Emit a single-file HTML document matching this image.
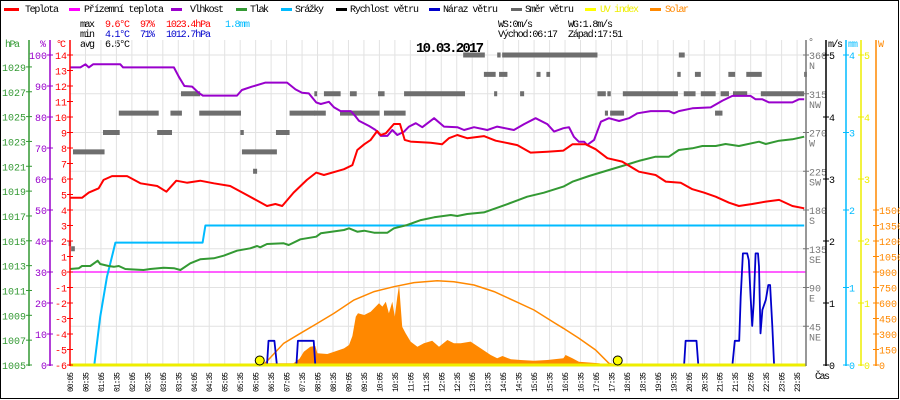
<!DOCTYPE html>
<html><head><meta charset="utf-8"><title>Meteo 10.03.2017</title>
<style>
html,body{margin:0;padding:0;background:#fff;}
svg{display:block;font-family:"Liberation Mono",monospace;}
</style></head>
<body>
<svg id="chart" width="900" height="400" viewBox="0 0 900 400" xmlns="http://www.w3.org/2000/svg">
<rect x="0.5" y="0.5" width="898" height="398" fill="#fff" stroke="#000" stroke-width="1"/>
<g id="legend" font-size="10">
 <g><rect x="4" y="8" width="15" height="3" fill="#f00"/><text x="25" y="12" textLength="34" fill="#000">Teplota</text></g>
 <g><rect x="69" y="8" width="11" height="3" fill="#f0f"/><text x="84" y="12" textLength="80" fill="#000">Přízemní teplota</text></g>
 <g><rect x="171" y="8" width="11" height="3" fill="#90c"/><text x="190" y="12" textLength="34" fill="#000">Vlhkost</text></g>
 <g><rect x="236" y="8" width="11" height="3" fill="#393"/><text x="250" y="12" textLength="19" fill="#000">Tlak</text></g>
 <g><rect x="281" y="8" width="11" height="3" fill="#0bf"/><text x="295" y="12" textLength="29" fill="#000">Srážky</text></g>
 <g><rect x="336" y="8" width="11" height="3" fill="#000"/><text x="350" y="12" textLength="69" fill="#000">Rychlost větru</text></g>
 <g><rect x="429" y="8" width="11" height="3" fill="#00c"/><text x="443" y="12" textLength="55" fill="#000">Náraz větru</text></g>
 <g><rect x="511" y="8" width="11" height="3" fill="#666"/><text x="525" y="12" textLength="49" fill="#000">Směr větru</text></g>
 <g><rect x="585" y="8" width="11" height="3" fill="#ff0"/><text x="600" y="12" textLength="39" fill="#ee0">UV index</text></g>
 <g><rect x="650" y="8" width="11" height="3" fill="#f80"/><text x="665" y="12" textLength="24" fill="#f80">Solar</text></g>
</g>
<g id="stats" font-size="10">
 <text x="80" y="27" textLength="15" fill="#000">max</text>
 <text x="105" y="27" textLength="25" fill="#f00">9.6°C</text>
 <text x="140" y="27" textLength="15" fill="#f00">97%</text>
 <text x="166" y="27" textLength="45" fill="#f00">1023.4hPa</text>
 <text x="225" y="27" textLength="25" fill="#0bf">1.8mm</text>
 <text x="80" y="37" textLength="15" fill="#000">min</text>
 <text x="105" y="37" textLength="25" fill="#00c">4.1°C</text>
 <text x="140" y="37" textLength="15" fill="#00c">71%</text>
 <text x="166" y="37" textLength="45" fill="#00c">1012.7hPa</text>
 <text x="80" y="47" textLength="15" fill="#000">avg</text>
 <text x="105" y="47" textLength="25" fill="#000">6.5°C</text>
 <text x="498" y="27" textLength="35" fill="#000">WS:0m/s</text>
 <text x="568" y="27" textLength="45" fill="#000">WG:1.8m/s</text>
 <text x="498" y="37" textLength="60" fill="#000">Východ:06:17</text>
 <text x="568" y="37" textLength="55" fill="#000">Západ:17:51</text>
</g>
<g id="grid"></g>
<g id="marks"></g>
<g id="axes"></g>
<text x="416" y="52" font-size="14" font-weight="bold" textLength="68" fill="#000">10.03.2017</text>
<g font-size="10">
<text x="5" y="47" fill="#393" textLength="15">hPa</text>
<text x="40" y="47" fill="#90c">%</text>
<text x="56" y="47" fill="#f00" textLength="10">°C</text>
<text x="808" y="45" fill="#666">°</text>
<text x="828" y="47" fill="#000" textLength="15">m/s</text>
<text x="848" y="47" fill="#0bf" textLength="10">mm</text>
<text x="878" y="47" fill="#f80">W</text>
<text x="815" y="379" fill="#000" textLength="15">Čas</text>
</g>
</svg>
<script>
// ---------- DATA ----------
const tempTimes=[0.08,0.47,0.69,1.01,1.17,1.44,1.93,2.36,2.90,3.20,3.52,3.86,4.29,4.73,5.26,5.80,6.45,6.72,6.94,7.31,7.74,8.04,8.29,8.94,9.21,9.37,9.59,9.80,10.01,10.12,10.29,10.55,10.75,10.90,11.09,11.74,12.11,12.33,12.60,12.92,13.46,13.84,14.54,14.97,15.51,16.03,16.32,16.75,17.07,17.45,17.93,18.47,19.01,19.34,19.82,20.20,20.57,20.95,21.38,21.70,22.13,22.57,23.00,23.43,23.81];
const tempValues=[4.79,4.79,5.12,5.40,5.94,6.19,6.19,5.72,5.55,5.18,5.89,5.76,5.89,5.72,5.55,4.97,4.26,4.39,4.26,5.12,5.94,6.41,6.26,6.63,6.90,7.87,8.24,8.52,9.10,8.84,8.95,9.55,9.55,8.52,8.41,8.34,8.24,8.63,8.84,8.63,8.77,8.47,8.19,7.70,7.76,7.83,8.24,8.24,7.92,7.34,7.12,6.47,6.26,5.83,5.76,5.34,5.12,4.86,4.47,4.26,4.39,4.54,4.65,4.26,4.11];
const humTimes=[0.08,0.42,0.58,0.69,0.83,1.71,1.80,3.44,3.60,3.78,4.03,4.24,4.38,5.48,5.64,5.97,6.40,7.10,7.37,7.58,7.80,8.04,8.19,8.45,8.62,8.83,9.16,9.32,9.42,9.75,9.96,10.13,10.34,10.50,10.66,10.88,11.04,11.26,11.47,11.85,12.17,12.60,12.82,13.14,13.57,13.89,14.43,14.76,15.13,15.51,15.73,16.03,16.21,16.37,16.53,16.70,16.80,17.02,17.24,17.50,17.83,18.15,18.42,18.85,19.44,19.60,19.76,20.20,20.79,21.17,21.49,22.08,22.24,22.46,22.67,23.43,23.64,23.81];
const humValues=[96.0,96.0,97.0,96.0,97.0,97.0,96.0,96.0,93.0,90.0,89.8,87.8,86.9,86.9,88.7,89.8,91.1,91.1,88.9,87.8,87.6,84.7,84.2,84.9,83.1,81.9,81.9,80.1,78.8,77.1,75.8,73.9,73.9,75.8,74.2,75.3,76.9,78.0,76.7,79.6,76.9,76.7,75.8,76.7,75.8,76.9,75.8,77.7,79.6,77.7,75.3,76.4,76.7,73.6,72.0,72.0,71.0,72.6,78.5,79.6,78.7,79.6,81.2,81.9,81.9,81.2,81.9,82.8,83.1,85.3,86.8,86.8,85.7,85.7,84.7,84.7,85.7,85.7];
const presTimes=[0.08,0.37,0.47,0.74,0.98,1.06,1.33,1.50,1.66,1.87,2.46,2.68,3.11,3.44,3.65,3.97,4.29,4.73,5.05,5.48,5.91,6.13,6.23,6.45,6.99,7.15,7.53,8.04,8.19,8.94,9.10,9.37,9.59,9.91,10.34,10.55,10.98,11.42,11.85,12.39,12.60,12.92,13.46,14.00,14.43,14.86,15.40,16.03,16.32,16.86,17.50,18.04,18.47,19.01,19.44,19.76,20.20,20.52,20.95,21.27,21.70,22.35,22.57,23.00,23.43,23.81];
const presValues=[1012.73,1012.79,1012.97,1012.97,1013.40,1013.13,1012.97,1012.91,1012.97,1012.73,1012.65,1012.73,1012.83,1012.79,1012.65,1013.19,1013.51,1013.59,1013.80,1014.20,1014.40,1014.58,1014.48,1014.74,1014.80,1014.66,1015.12,1015.33,1015.60,1015.87,1016.01,1015.73,1015.81,1015.65,1015.65,1016.01,1016.27,1016.67,1016.89,1017.08,1017.00,1017.16,1017.29,1017.75,1018.15,1018.55,1018.87,1019.36,1019.76,1020.22,1020.70,1021.10,1021.43,1021.77,1021.77,1022.31,1022.45,1022.63,1022.63,1022.79,1022.63,1022.98,1022.79,1023.06,1023.17,1023.38];
const rainTimes=[0.08,0.87,1.06,1.28,1.44,1.55,4.37,4.46,23.81];
const rainValues=[0,0,0.62,1.14,1.40,1.58,1.58,1.80,1.80];
const gustTimes=[0.08,6.45,6.50,6.69,6.77,7.40,7.45,7.96,8.01,19.93,19.98,20.33,20.39,21.49,21.57,21.71,21.76,21.83,21.97,22.02,22.08,22.13,22.18,22.24,22.32,22.35,22.40,22.46,22.57,22.65,22.71,22.78,22.84,23.81];
const gustValues=[0,0,0.39,0.39,0,0,0.39,0.39,0,0,0.39,0.39,0,0,0.39,0.39,1.10,1.80,1.80,1.69,1.10,0.63,1.0,1.8,1.8,1.59,0.51,0.89,1.05,1.29,1.29,0.63,0,0];
const dirStart=[0.04,0.12,0.18,1.15,1.66,2.90,3.33,3.67,4.26,5.59,5.64,6.00,6.74,7.18,7.98,7.97,8.29,8.81,9.13,10.04,10.23,10.88,12.79,13.46,13.79,13.89,13.95,14.05,14.63,15.16,15.48,15.89,17.13,17.37,17.45,17.54,17.95,19.71,19.76,19.92,20.28,20.47,20.93,21.11,21.36,21.51,21.94,22.41,23.81];
const dirEnd=[0.12,0.24,1.20,1.69,2.95,3.38,3.70,4.29,5.61,5.70,6.77,6.13,7.18,8.01,8.07,8.35,8.83,10.09,9.35,10.25,10.93,12.85,13.49,13.84,13.89,14.00,14.22,16.03,14.76,15.29,15.60,17.13,17.40,17.47,17.56,17.99,19.73,19.82,19.95,20.30,20.47,20.95,21.17,21.38,21.58,21.97,22.44,23.81,23.90];
const dirValues=[141,135,247.5,270,292.5,270,292.5,315,292.5,270,247.5,225,270,292.5,315,292.5,315,292.5,315,315,292.5,315,360,337.5,315,360,337.5,360,315,337.5,337.5,360,315,292.5,315,292.5,315,337.5,360,315,337.5,315,292.5,315,337.5,315,337.5,315,337.5];
const solarTimes=[6.30,6.34,6.45,7.31,7.50,7.64,7.85,8.01,8.08,8.40,8.62,8.94,9.10,9.21,9.32,9.39,9.59,9.80,10.07,10.18,10.29,10.39,10.50,10.58,10.66,10.72,10.77,10.82,10.93,11.09,11.31,11.52,11.79,12.01,12.28,12.49,12.71,13.03,13.36,13.68,13.89,14.06,14.33,14.65,15.08,15.51,16.03,16.10,16.32,16.53,17.18,17.50];
const solarValues=[0,10,16,16,60,129,177,184,113,106,129,161,194,281,468,500,484,516,597,565,613,500,613,468,661,774,565,371,307,226,177,210,235,177,242,210,210,226,161,97,65,87,55,48,42,48,65,97,65,32,16,0];
const theoTimes=[6.28,6.39,6.99,7.53,8.04,8.62,9.26,9.91,10.55,11.20,11.95,12.49,13.14,13.79,14.43,15.08,15.73,16.03,16.53,17.07,17.50,17.66];
const theoValues=[0,16,210,307,397,500,629,710,758,797,816,806,774,710,622,532,410,355,258,145,16,0];
const sunEvents=[6.28,17.85];
const xTickLabels=[];for(let k=0;k<48;k++){const m=5+30*k;xTickLabels.push(String(Math.floor(m/60)).padStart(2,'0')+':'+String(m%60).padStart(2,'0'));}
const presTicks=[1005,1007,1009,1011,1013,1015,1017,1019,1021,1023,1025,1027,1029];
const humTicks=[0,10,20,30,40,50,60,70,80,90,100];
const tempTicks=[-6,-5,-4,-3,-2,-1,0,1,2,3,4,5,6,7,8,9,10,11,12,13,14];
const dirTicks=[45,90,135,180,225,270,315,360];
const dirNames=['NE','E','SE','S','SW','W','NW','N'];
const windTicks=[0,1,2,3,4,5];
const rainTicks=[0,1,2,3,4];
const uvTicks=[0,1,2,3,4,5];
const solarTicks=[0,150,300,450,600,750,900,1050,1200,1350,1500];

// ---------- SCALES ----------
const X=t=>70+(t*60-5)*0.5157;
const yT=c=>272-c*15.5;
const yH=p=>365-p*3.1;
const yP=h=>365-(h-1005)*12.42;
const yD=d=>365-d*310/360;
const yMS=v=>365-v*62;
const yMM=v=>365-v*77.5;
const yUV=v=>365-v*62;
const yW=w=>365-w*0.10333;

const NS='http://www.w3.org/2000/svg';
function el(parent,tag,attrs){const e=document.createElementNS(NS,tag);for(const k in attrs)e.setAttribute(k,attrs[k]);parent.appendChild(e);return e;}
const grid=document.getElementById('grid'),marks=document.getElementById('marks'),axes=document.getElementById('axes');

// grid
for(let k=0;k<48;k++){const x=70+k*15.47;
 const g=el(grid,'line',{x1:x,x2:x,y1:40,y2:365,stroke:'#e2e2e2','stroke-width':1});
 
 
 const t=el(axes,'text',{transform:`translate(${x+3},392) rotate(-90)`,'font-size':8,textLength:20,fill:'#000'});
 t.textContent=xTickLabels[k];
 
 
}
for(let i=0;i<=7;i++){const y=55+i*38.75;
 const g=el(grid,'line',{x1:70,x2:806,y1:y,y2:y,stroke:'#e2e2e2','stroke-width':1});
 
 
}

function pathFrom(ts,vs,sx,sy){return ts.map((t,i)=>(i?'L':'M')+sx(t).toFixed(1)+','+sy(vs[i]).toFixed(1)).join('');}

// solar area
let sp=pathFrom(solarTimes,solarValues,X,yW)+`L${X(solarTimes[solarTimes.length-1])},365L${X(solarTimes[0])},365Z`;
const sa=el(marks,'path',{d:sp,fill:'#f80',stroke:'none'});


const th=el(marks,'path',{d:pathFrom(theoTimes,theoValues,X,yW),fill:'none',stroke:'#f80','stroke-width':1.5});



// wind direction dashes
for(let i=0;i<dirValues.length;i++){
 const r=el(marks,'rect',{x:X(dirStart[i]),y:yD(dirValues[i])-2.5,width:Math.max(2,X(dirEnd[i])-X(dirStart[i])),height:5,fill:'#6e6e6e'});
 
 
}
// apparent temperature (0)
const ap=el(marks,'line',{x1:70,x2:806,y1:yT(0),y2:yT(0),stroke:'#f0f','stroke-width':1.2});



const series=[
 ['rain-line',rainTimes,rainValues,yMM,'#0bf',2],
 ['pressure-line',presTimes,presValues,yP,'#393',2],
 ['humidity-line',humTimes,humValues,yH,'#90c',2],
 ['temperature-line',tempTimes,tempValues,yT,'#f00',2],
 ['wind-gust-line',gustTimes,gustValues,yMS,'#00c',1.8]];
for(const s of series){
 const p=el(marks,'path',{d:pathFrom(s[1],s[2],X,s[3]),fill:'none',stroke:s[4],'stroke-width':s[5],'stroke-linejoin':'round'});
 
 
}
// UV & wind speed baseline
const uv=el(marks,'line',{x1:70,x2:806,y1:365,y2:365,stroke:'#ee0','stroke-width':3});


for(const t of sunEvents){
 const c=el(marks,'circle',{cx:X(t)-2,cy:360.5,r:4.5,fill:'#ff0',stroke:'#000','stroke-width':1});
 
 
}

// axes
function axis(x,color,ticks,sy,labelFn,side,name){
 const l=el(axes,'line',{x1:x,x2:x,y1:40,y2:366,stroke:color,'stroke-width':1.5});
 
 
 ticks.forEach((v,i)=>{const y=sy(v);
  const tk=el(axes,'line',{x1:x-3,x2:x+3,y1:y,y2:y,stroke:color,'stroke-width':1});
  
  
  const lab=labelFn(v,i);
  if(lab===null)return;
  const t=el(axes,'text',{x:side<0?x-3:x+3,y:y+4,'font-size':10,'text-anchor':side<0?'end':'start',fill:color});
  t.textContent=lab;
  
  
 });
}
axis(29,'#393',presTicks,yP,v=>String(v),-1,'pressure-axis');
axis(50,'#90c',humTicks,yH,v=>String(v),-1,'humidity-axis');
axis(70,'#f00',tempTicks,yT,v=>String(v),-1,'temperature-axis');
axis(806,'#777',dirTicks,yD,v=>String(v),1,'direction-axis');
dirTicks.forEach((v,i)=>{const t=el(axes,'text',{x:809,y:yD(v)+14,'font-size':10,fill:'#777'});
 t.textContent=dirNames[i];
 
 });
axis(826,'#000',windTicks,yMS,v=>String(v),1,'wind-axis');
axis(846,'#0bf',rainTicks,yMM,v=>String(v),1,'rain-axis');
axis(861,'#ee0',uvTicks,yUV,v=>String(v),1,'uv-axis');
const sl=el(axes,'line',{x1:876,x2:876,y1:40,y2:366,stroke:'#f80','stroke-width':1.5});


solarTicks.forEach(v=>{const y=yW(v);
 const tk=el(axes,'line',{x1:873,x2:879,y1:y,y2:y,stroke:'#f80'});
 
 
 const t=el(axes,'text',{x:879,y:y+4,'font-size':10,fill:'#f80'});
 t.textContent=String(v);
 
 });
</script>
</body></html>
